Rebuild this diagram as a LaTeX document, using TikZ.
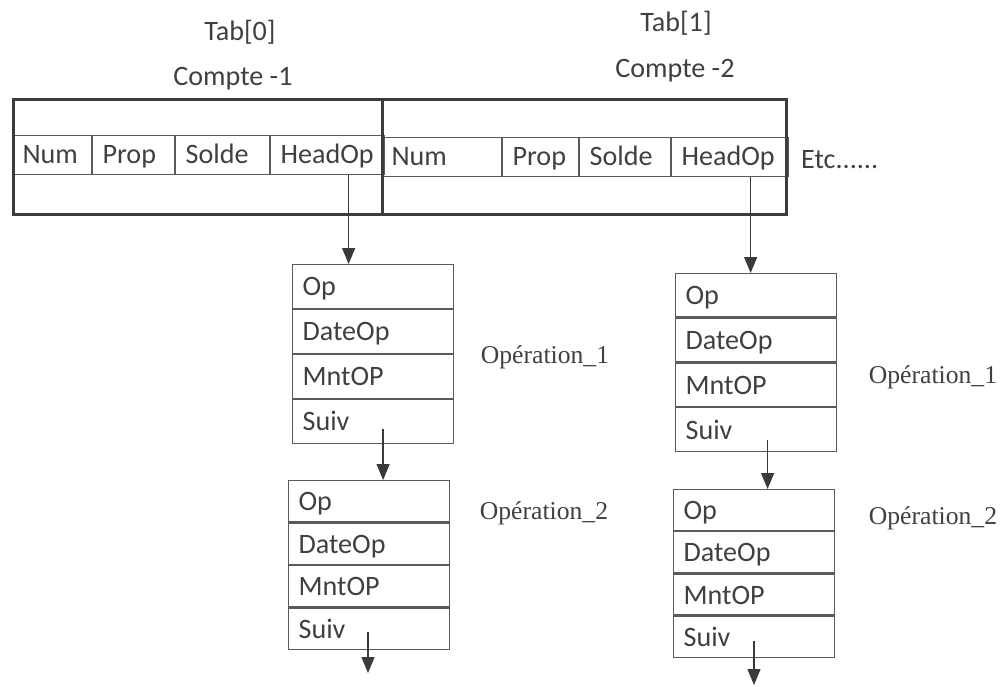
\documentclass[tikz,border=0pt]{standalone}
\usepackage{fontspec}
\setmainfont{Carlito}
\newfontfamily\opfont{Liberation Serif}
\usetikzlibrary{positioning,arrows.meta}
\definecolor{frame}{HTML}{3C3C3C}
\definecolor{cellline}{HTML}{5A5A5A}
\definecolor{ink}{HTML}{3A3A3A}
\definecolor{txt}{HTML}{404040}
\begin{document}
\begin{tikzpicture}[
  x=0.02cm, y=-0.02cm,
  every node/.style={font=\fontsize{16}{19}\selectfont, text=txt},
  cell/.style={draw=cellline, line width=0.6pt, anchor=north west, inner xsep=0.2cm, inner ysep=0pt,
    text width=#1, minimum height=0.78cm, text height=0.42cm, text depth=0.08cm, align=left},
  opcell/.style={draw=cellline, line width=0.7pt, inner xsep=0.2cm, inner ysep=0pt,
    text width=2.82cm, minimum height=#1, text height=0.45cm, text depth=0.07cm, align=left},
  compte/.style={draw=frame, line width=1.8pt, anchor=north west, inner sep=0pt},
  link/.style={-{Triangle[length=0.32cm,width=0.26cm]}, draw=ink, line width=0.8pt},
  oplabel/.style={font=\opfont\fontsize{14.6}{17}\selectfont}
]
  \useasboundingbox (0,0) rectangle (1000,686);

  % titles
  \node[anchor=base] (tab0) at (240,41) {Tab[0]};
  \node[anchor=base] (lbl1) at (233,86) {Compte -1};
  \node[anchor=base] (tab1) at (676,32) {Tab[1]};
  \node[anchor=base] (lbl2) at (675,78) {Compte -2};

  % Compte -1
  \node[cell=1.18cm] (num1) at (12,135) {Num};
  \node[cell=1.24cm, right=0pt of num1] (prop1) {Prop};
  \node[cell=1.48cm, right=0pt of prop1] (solde1) {Solde};
  \node[cell=1.88cm, right=0pt of solde1] (head1) {HeadOp};
  \node[compte, minimum width=7.38cm, minimum height=2.3cm] (cpt1) at (12,98) {};

  % Compte -2
  \node[cell=2.00cm] (num2) at (381,137) {Num};
  \node[cell=1.12cm, right=0pt of num2] (prop2) {Prop};
  \node[cell=1.42cm, right=0pt of prop2] (solde2) {Solde};
  \node[cell=1.94cm, right=0pt of solde2] (head2) {HeadOp};
  \node[compte, minimum width=8.08cm, minimum height=2.3cm] (cpt2) at (381,98) {};
  \node[anchor=base west] (etc) at (795,168) {Etc......};

  % operations of Compte -1
  \node[opcell=0.875cm, anchor=north west] (op11) at (292,264) {Op};
  \node[opcell=0.875cm, below=0pt of op11] (date11) {DateOp};
  \node[opcell=0.875cm, below=0pt of date11] (mnt11) {MntOP};
  \node[opcell=0.875cm, below=0pt of mnt11] (suiv11) {Suiv};
  \node[oplabel, anchor=base] (oper11) at (545,363) {Opération\_1};

  \node[opcell=0.825cm, anchor=north west] (op12) at (288,480) {Op};
  \node[opcell=0.825cm, below=0pt of op12] (date12) {DateOp};
  \node[opcell=0.825cm, below=0pt of date12] (mnt12) {MntOP};
  \node[opcell=0.825cm, below=0pt of mnt12] (suiv12) {Suiv};
  \node[oplabel, anchor=base] (oper12) at (544,519) {Opération\_2};

  % operations of Compte -2
  \node[opcell=0.87cm, anchor=north west] (op21) at (675,273) {Op};
  \node[opcell=0.87cm, below=0pt of op21] (date21) {DateOp};
  \node[opcell=0.87cm, below=0pt of date21] (mnt21) {MntOP};
  \node[opcell=0.87cm, below=0pt of mnt21] (suiv21) {Suiv};
  \node[oplabel, anchor=base] (oper21) at (933,383) {Opération\_1};

  \node[opcell=0.82cm, anchor=north west] (op22) at (673,489) {Op};
  \node[opcell=0.82cm, below=0pt of op22] (date22) {DateOp};
  \node[opcell=0.82cm, below=0pt of date22] (mnt22) {MntOP};
  \node[opcell=0.82cm, below=0pt of mnt22] (suiv22) {Suiv};
  \node[oplabel, anchor=base] (oper22) at (933,524) {Opération\_2};

  \coordinate (end1) at (368,673);
  \coordinate (end2) at (754,685);

  % pointers
  \draw[link] ([xshift=0.42cm]head1.south) -- ([xshift=0.42cm]head1.south |- op11.north);
  \draw[link] ([xshift=0.41cm]head2.south) -- ([xshift=0.41cm]head2.south |- op21.north);
  \draw[link] ([xshift=0.2cm,yshift=-0.15cm]suiv11.center) -- ([xshift=0.2cm]suiv11.center |- op12.north);
  \draw[link] ([xshift=0.23cm,yshift=-0.2cm]suiv21.center) -- ([xshift=0.23cm]suiv21.center |- op22.north);
  \draw[link] ([yshift=-0.07cm]suiv12.center -| end1) -- (end1);
  \draw[link] ([yshift=-0.09cm]suiv22.center -| end2) -- (end2);
\end{tikzpicture}
\end{document}
